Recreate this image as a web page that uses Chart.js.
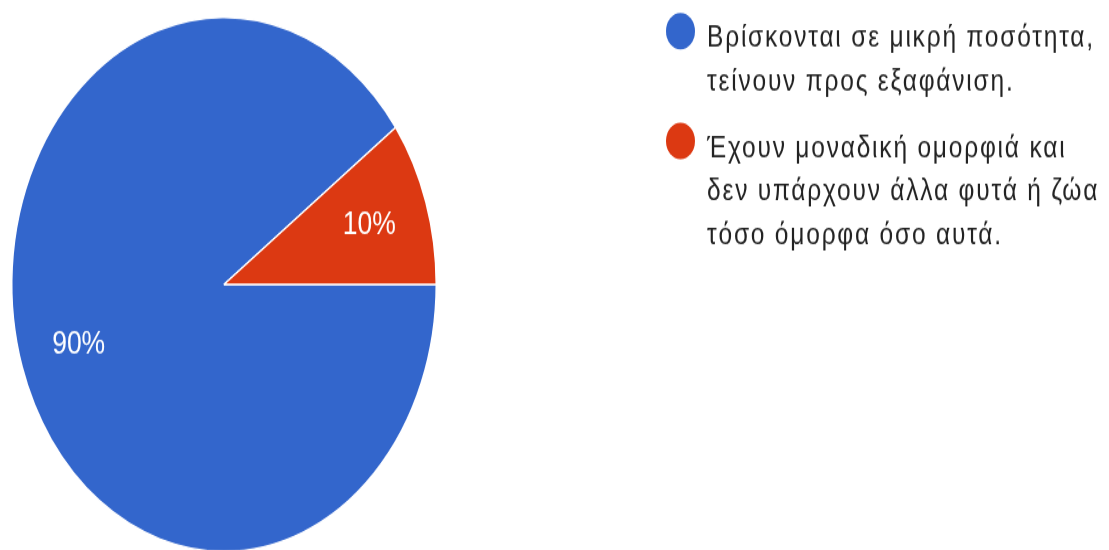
<!DOCTYPE html>
<html>
<head>
<meta charset="utf-8">
<script src="https://cdn.jsdelivr.net/npm/chart.js@4.4.1/dist/chart.umd.min.js"></script>
<style>
  html, body { margin: 0; padding: 0; background: #ffffff; overflow: hidden; }
</style>
</head>
<body>
<!-- drawing buffer is 1109x445, shown stretched vertically to 560px -->
<canvas id="pie" width="1109" height="445" style="display:block;width:1109px;height:560px;"></canvas>
<script>
// Answer options (one array per legend entry, one string per legend line)
const categories = [
  ["Βρίσκονται σε μικρή ποσότητα,", "τείνουν προς εξαφάνιση."],
  ["Έχουν μοναδική ομορφιά και", "δεν υπάρχουν άλλα φυτά ή ζώα", "τόσο όμορφα όσο αυτά."]
];
// Share of responses, in percent
const shares = [90, 10];
const colors = ["#3366CC", "#DC3912"];

const FONT = "'Liberation Sans', Arial, sans-serif";

// Percentage text inside each slice, placed along the slice's middle angle
const sliceLabels = {
  id: "sliceLabels",
  afterDatasetsDraw(chart) {
    const ctx = chart.ctx;
    const meta = chart.getDatasetMeta(0);
    const values = chart.data.datasets[0].data;
    const total = values.reduce((a, b) => a + b, 0);
    ctx.save();
    ctx.fillStyle = "#ffffff";
    ctx.font = "26.5px " + FONT;
    ctx.textAlign = "center";
    ctx.textBaseline = "middle";
    meta.data.forEach((arc, i) => {
      const p = arc.getProps(["x", "y", "startAngle", "endAngle", "outerRadius"], true);
      const mid = (p.startAngle + p.endAngle) / 2;
      const r = p.outerRadius * 0.72;
      const pct = Math.round(values[i] / total * 100) + "%";
      ctx.fillText(pct, p.x + Math.cos(mid) * r, p.y + Math.sin(mid) * r);
    });
    ctx.restore();
  }
};

// Legend on the right, with multi-line entries
const sideLegend = {
  id: "sideLegend",
  afterDraw(chart) {
    const ctx = chart.ctx;
    const labels = chart.data.labels;
    const bg = chart.data.datasets[0].backgroundColor;
    const x0 = 680.5, textX = 707, lineH = 34.5, itemGap = 18.3;
    let y = 37.2;
    ctx.save();
    ctx.font = "24.5px " + FONT;
    if ("letterSpacing" in ctx) ctx.letterSpacing = "1.8px";
    ctx.textBaseline = "alphabetic";
    ctx.textAlign = "left";
    labels.forEach((lines, i) => {
      ctx.fillStyle = bg[i];
      ctx.beginPath();
      ctx.arc(x0, y - 12.5, 14.5, 0, Math.PI * 2);
      ctx.fill();
      ctx.fillStyle = "#222222";
      lines.forEach((line, j) => {
        ctx.fillText(line, textX, y + j * lineH);
      });
      y += lines.length * lineH + itemGap;
    });
    ctx.restore();
  }
};

new Chart(document.getElementById("pie"), {
  type: "pie",
  data: {
    labels: categories,
    datasets: [{
      data: shares,
      backgroundColor: colors,
      borderColor: "#ffffff",
      borderWidth: 1.5
    }]
  },
  options: {
    responsive: false,
    devicePixelRatio: 1,
    animation: false,
    rotation: 90,
    layout: { padding: { left: 11, top: 13, right: 672, bottom: 6 } },
    plugins: {
      legend: { display: false },
      tooltip: { enabled: false }
    }
  },
  plugins: [sliceLabels, sideLegend]
});
</script>
</body>
</html>
